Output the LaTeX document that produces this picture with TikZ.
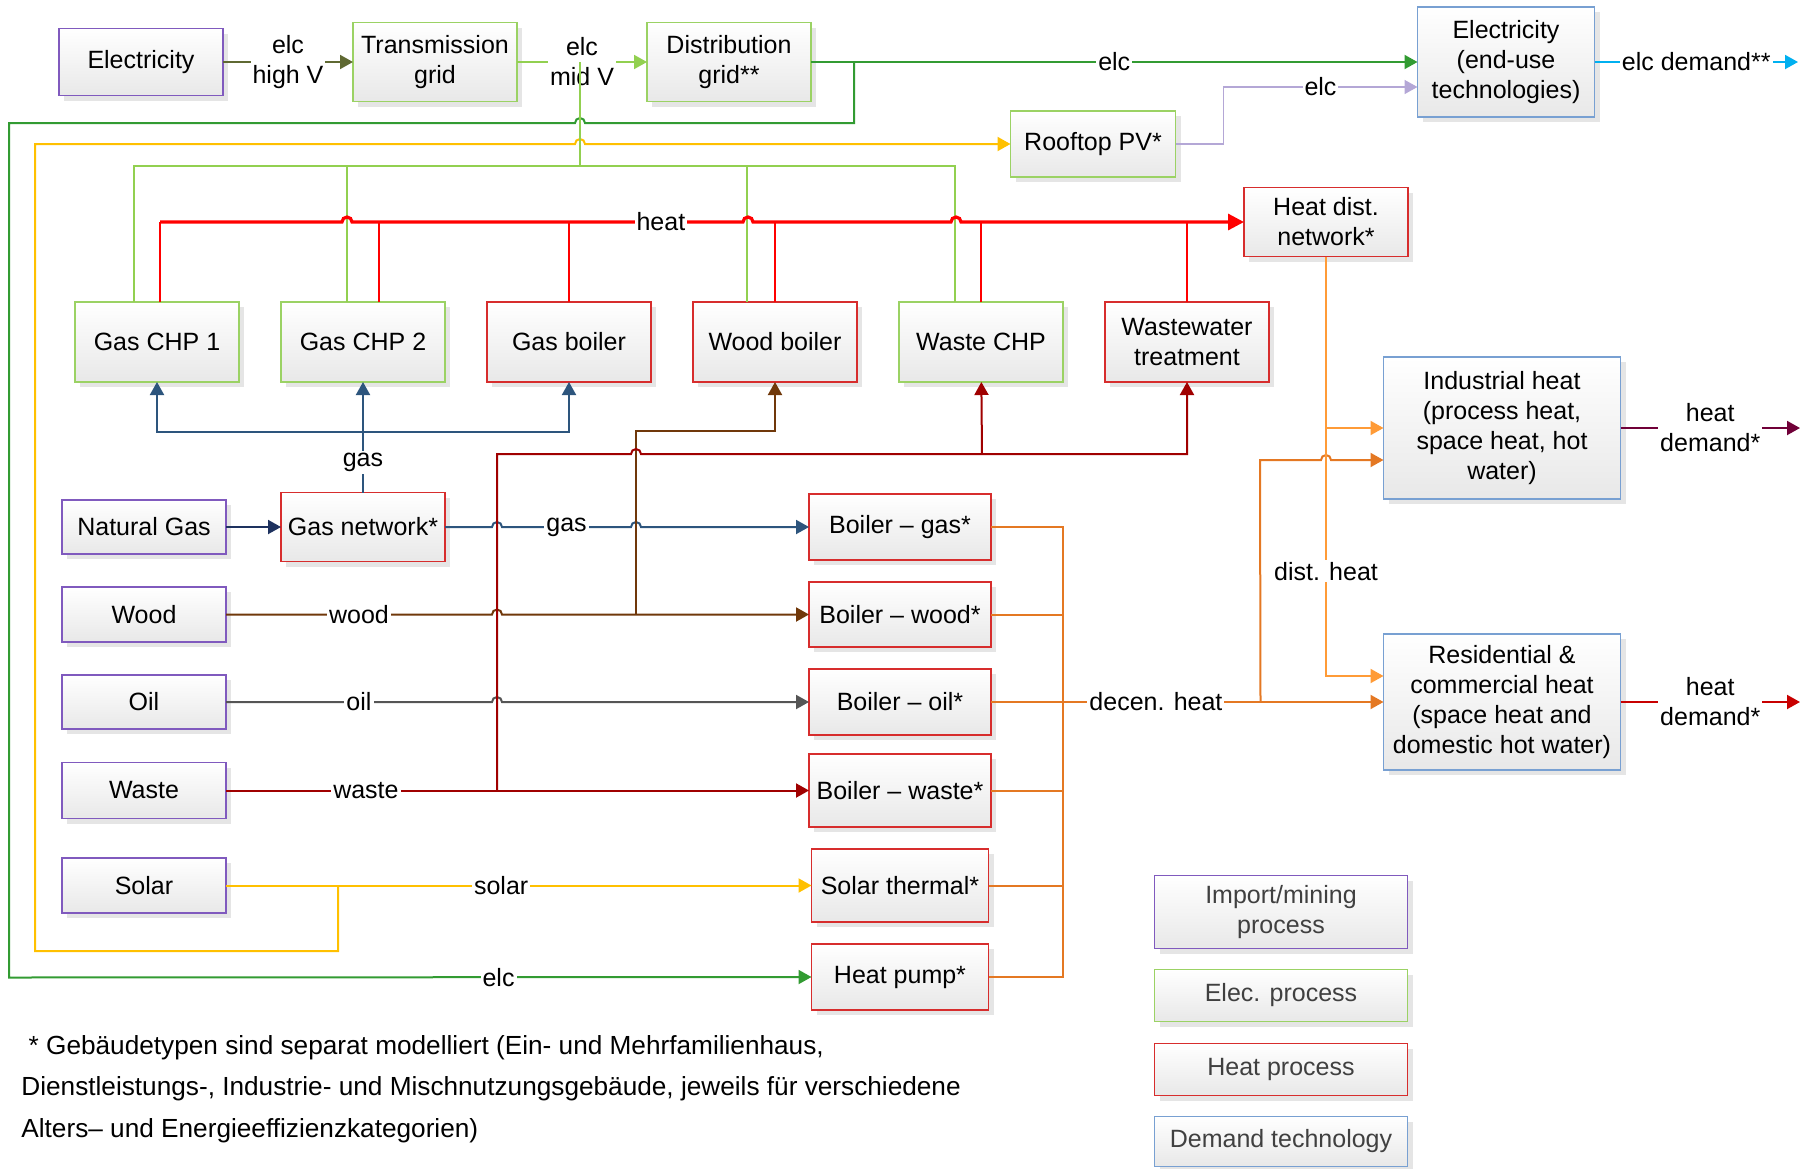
\documentclass[tikz,border=0pt]{standalone}
\usepackage{fontspec}
\setmainfont{Liberation Sans}
\usepackage{xcolor}
\definecolor{impborder}{RGB}{128,90,190}
\definecolor{elecborder}{RGB}{155,210,100}
\definecolor{heatborder}{RGB}{215,45,45}
\definecolor{demborder}{RGB}{120,160,210}
\definecolor{olivec}{RGB}{95,105,50}
\definecolor{midvc}{RGB}{146,208,80}
\definecolor{elcc}{RGB}{50,155,50}
\definecolor{solarc}{RGB}{255,192,0}
\definecolor{pvc}{RGB}{180,167,214}
\definecolor{elcdemc}{RGB}{0,176,240}
\definecolor{heatc}{RGB}{255,0,0}
\definecolor{wastec}{RGB}{160,0,0}
\definecolor{woodc}{RGB}{112,56,10}
\definecolor{gasc}{RGB}{45,85,125}
\definecolor{ngasc}{RGB}{30,50,95}
\definecolor{oilc}{RGB}{85,85,85}
\definecolor{decenc}{RGB}{228,120,35}
\definecolor{distc}{RGB}{255,155,55}
\definecolor{inddemc}{RGB}{112,0,56}
\definecolor{resdemc}{RGB}{200,0,0}
\usepackage{tikz}
\usetikzlibrary{arrows.meta, positioning, calc, shadows}
\newcommand{\boxfont}{\fontsize{12.5pt}{15pt}\selectfont}
\newcommand{\notefont}{\fontsize{13.1pt}{20.75pt}\selectfont}
\tikzset{
  proc/.style={
    rectangle, draw, line width=0.7pt, outer sep=0pt,
    top color=white, bottom color=black!9,
    drop shadow={shadow xshift=2.5pt, shadow yshift=-2.5pt, fill=black!10, opacity=1},
    minimum width=82pt, minimum height=34pt, inner sep=1pt,
    align=center, font=\boxfont
  },
  import/.style={proc, draw=impborder},
  elec/.style={proc, draw=elecborder},
  heatproc/.style={proc, draw=heatborder},
  demand/.style={proc, draw=demborder},
  boiler/.style={minimum width=91pt},
  enduse/.style={minimum width=118.5pt},
  legend/.style={minimum width=126.5pt, text=black!75},
  lbl/.style={fill=white, text=black, inner sep=1pt, align=center, font=\boxfont},
  link/.style={line width=1pt},
  flow/.style={line width=1pt, -{Triangle[length=6.5pt,width=7pt]}},
}
\begin{document}
\begin{tikzpicture}[x=0.5pt, y=-0.5pt]
  \useasboundingbox (0,0) rectangle (1816,1168);

  \node (elecimp) [import, minimum height=33.5pt]                     at (141,62)   {Electricity};
  \node (trans)   [elec, minimum height=39.5pt]                       at (435,62)   {Transmission\\grid};
  \node (distr)   [elec, minimum height=39.5pt]                       at (729,62)   {Distribution\\grid**};
  \node (elecuse) [demand, minimum width=88.5pt, minimum height=55pt] at (1506,62)  {Electricity\\(end-use\\technologies)};
  \node (pv)      [elec, minimum width=82.5pt, minimum height=33pt]   at (1093,144) {Rooftop PV*};
  \node (hdn)     [heatproc, minimum height=34.5pt]                   at (1326,222) {Heat dist.\\network*};

  \node (chpA)  [elec, minimum height=40pt]                         at (157,342) {Gas CHP 1};
  \node (chpB)  [elec, minimum height=40pt, right=21pt of chpA]     {Gas CHP 2};
  \node (gboil) [heatproc, minimum height=40pt, right=21pt of chpB] {Gas boiler};
  \node (wboil) [heatproc, minimum height=40pt, right=21pt of gboil] {Wood boiler};
  \node (wchp)  [elec, minimum height=40pt, right=21pt of wboil]    {Waste CHP};
  \node (wwt)   [heatproc, minimum height=40pt, right=21pt of wchp] {Wastewater\\treatment};

  \node (ngas)   [import, minimum height=27pt]     at (144,527) {Natural Gas};
  \node (gasnet) [heatproc, minimum height=34.5pt] at (363,527) {Gas network*};

  \node (bgas)   [heatproc, boiler, minimum height=33pt] at (900,527)    {Boiler -- gas*};
  \node (bwood)  [heatproc, boiler, minimum height=32.5pt, below=11pt of bgas]  {Boiler -- wood*};
  \node (boil)   [heatproc, boiler, minimum height=33pt, below=11pt of bwood]   {Boiler -- oil*};
  \node (bwaste) [heatproc, boiler, minimum height=36.5pt, below=9.5pt of boil] {Boiler -- waste*};
  \node (sth)    [heatproc, minimum width=88.5pt, minimum height=36.5pt, below=11pt of bwaste] {Solar thermal*};
  \node (hp)     [heatproc, minimum width=88.5pt, minimum height=33pt, below=11pt of sth]      {Heat pump*};

  \node (wood)  [import, minimum height=27.5pt] at (ngas |- bwood)  {Wood};
  \node (oil)   [import, minimum height=27pt]   at (ngas |- boil)   {Oil};
  \node (waste) [import, minimum height=28pt]   at (ngas |- bwaste) {Waste};
  \node (solar) [import, minimum height=27.5pt] at (ngas |- sth)    {Solar};

  \node (indh) [demand, enduse, minimum height=71pt] at (1502,428) {Industrial heat\\(process heat,\\space heat, hot\\water)};
  \node (resh) [demand, enduse, minimum height=68pt] at (1502,702) {Residential \&\\commercial heat\\(space heat and\\domestic hot water)};

  \node (legA) [import, legend, minimum height=36.5pt]                     at (1281,912) {Import/mining\\process};
  \node (legB) [elec, legend, minimum height=26pt, below=10.5pt of legA]   {Elec. process};
  \node (legC) [heatproc, legend, minimum height=26pt, below=11pt of legB] {Heat process};
  \node (legD) [demand, legend, minimum height=25pt, below=10.5pt of legC] {Demand technology};

  \node (note) [anchor=north west, align=left, font=\notefont, inner sep=0pt] at (21,1035)
    {\ * Gebäudetypen sind separat modelliert (Ein- und Mehrfamilienhaus,\\
     Dienstleistungs-, Industrie- und Mischnutzungsgebäude, jeweils für verschiedene\\
     Alters-- und Energieeffizienzkategorien)};

  \coordinate (elcsplit)   at (854,62);
  \coordinate (midvsplit)  at (580,62);
  \coordinate (elbus)      at (580,166);
  \coordinate (heatstart)  at (160,222);
  \coordinate (solarsplit) at ($(solar.east)+(112,0)$);
  \coordinate (gasjoin)    at (363,432);
  \coordinate (woodsplit)  at ($(bwood.west)+(-173,0)$);
  \coordinate (wastesplit) at ($(waste.east)+(271,0)$);
  \coordinate (decbus)     at (1063,0);
  \coordinate (indsplit)   at ($(resh.west)+(-123,0)$);
  \coordinate (distsplit)  at (hdn.south |- indh.west);
  \coordinate (elcdem)     at (1798,62);
  \coordinate (inddem)     at (1800,428);
  \coordinate (resdem)     at (1800,702);

  \draw [flow, olivec] (elecimp) -- node[lbl]{elc\\high V} (trans);
  \draw [flow, midvc]  (trans)   -- node[lbl]{elc\\mid V} (distr);
  \draw [flow, elcc]   (distr)   -- node[lbl]{elc} (elecuse);
  \draw [flow, elcc]   (elcsplit) -- (854,123) -- (585,123) arc[start angle=0,end angle=180,radius=2.5pt]
                       -- (9,123) -- (9,977.5) -- node[lbl,pos=0.61]{elc} (hp.west);
  \draw [flow, solarc] (solar) -- node[lbl,pos=0.47]{solar} (sth);
  \draw [flow, solarc] (solarsplit) |- (35,951) -- (35,144) -- (575,144) arc[start angle=180,end angle=0,radius=2.5pt] -- (pv.west);
  \draw [flow, pvc, line width=0.8pt] (pv.east) -- ++(48,0) |- node[lbl,pos=0.75]{elc} ($(elecuse.west)+(0,25)$);

  \draw [link, midvc, line width=0.8pt] (midvsplit) -- (elbus);
  \draw [link, midvc, line width=0.8pt] ($(chpA.north)+(-23,0)$) |- (elbus) -| ($(wchp.north)+(-26,0)$);
  \draw [link, midvc, line width=0.8pt] ($(chpB.north)+(-16,0)$) -- ++(0,-136);
  \draw [link, midvc, line width=0.8pt] ($(wboil.north)+(-28,0)$) -- ++(0,-136);

  \foreach \n/\dx in {chpA/3, chpB/16, gboil/0, wboil/0, wchp/0, wwt/0}
    \draw [link, heatc] ($(\n.north)+(\dx,0)$) -- ++(0,-80);
  \draw [heatc, line width=1.6pt, -{Triangle[length=8pt,width=8pt]}] (heatstart)
        -- (342,222) arc[start angle=180,end angle=0,radius=2.5pt]
        -- node[lbl,pos=0.79]{heat} (743,222) arc[start angle=180,end angle=0,radius=2.5pt]
        -- (951,222) arc[start angle=180,end angle=0,radius=2.5pt] -- (hdn.west);

  \draw [link, gasc]  (gasnet) -- node[lbl]{gas} (gasjoin);
  \draw [flow, gasc]  (gasjoin) -| (chpA);
  \draw [flow, gasc]  (gasjoin) -- (chpB);
  \draw [flow, gasc]  (gasjoin) -| (gboil);
  \draw [flow, ngasc] (ngas) -- (gasnet);
  \draw [flow, gasc]  (gasnet.east) -- ++(47,0) arc[start angle=180,end angle=0,radius=2.5pt]
                      -- node[lbl]{gas} ++(129,0) arc[start angle=180,end angle=0,radius=2.5pt] -- (bgas.west);

  \draw [flow, woodc] (wood.east) -- node[lbl]{wood} ++(266,0) arc[start angle=180,end angle=0,radius=2.5pt] -- (bwood.west);
  \draw [flow, woodc] (woodsplit) -- (636,431) -| (wboil);
  \draw [flow, oilc]  (oil.east) -- node[lbl]{oil} ++(266,0) arc[start angle=180,end angle=0,radius=2.5pt] -- (boil.west);
  \draw [flow, wastec] (waste) -- node[lbl,pos=0.24]{waste} (bwaste);
  \draw [flow, wastec] (wastesplit) -- (497,454) -- (631,454) arc[start angle=180,end angle=0,radius=2.5pt] -| (wwt);
  \draw [flow, wastec] (982,454) -- (wchp);

  \draw [link, decenc] (bgas.east) -| (hp.east -| decbus) -- (hp.east);
  \foreach \n in {bwood, boil, bwaste, sth}
    \draw [link, decenc] (\n.east) -- (\n.east -| decbus);
  \draw [flow, decenc] (boil.east -| decbus) -- node[lbl,pos=0.29]{decen. heat} (resh.west);
  \draw [flow, decenc] (indsplit) -- (1260,460) -- (1321,460) arc[start angle=180,end angle=0,radius=2.5pt] -- ($(indh.west)+(0,32)$);
  \draw [flow, distc]  (hdn.south) |- node[lbl,pos=0.375]{dist. heat} ($(resh.west)+(0,-26)$);
  \draw [flow, distc]  (distsplit) -- (indh.west);

  \draw [flow, elcdemc] (elecuse) -- node[lbl]{elc demand**} (elcdem);
  \draw [flow, inddemc] (indh) -- node[lbl]{heat\\demand*} (inddem);
  \draw [flow, resdemc] (resh) -- node[lbl]{heat\\demand*} (resdem);
\end{tikzpicture}
\end{document}
